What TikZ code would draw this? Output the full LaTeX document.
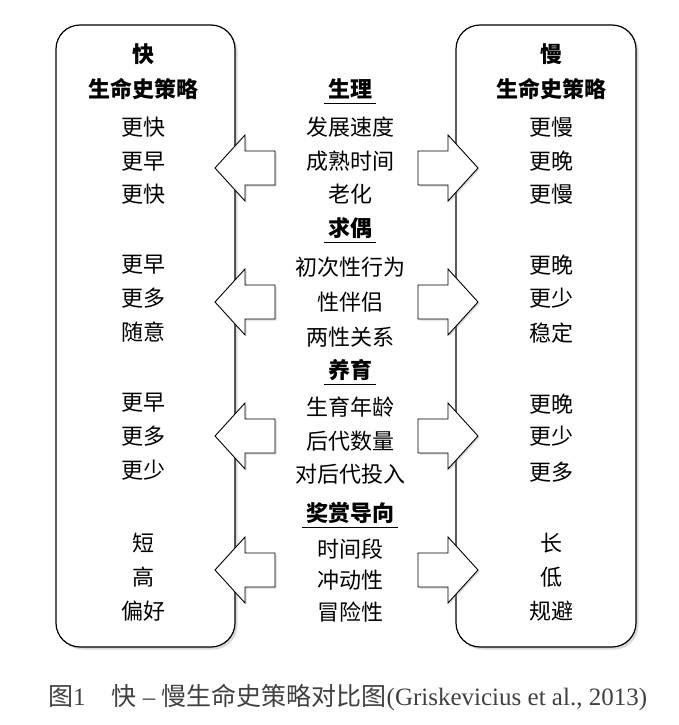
\documentclass[tikz,border=0pt]{standalone}
\usepackage{fontspec}
\setmainfont{Liberation Serif}
\newfontfamily\cjk{Noto Sans CJK SC}
\usetikzlibrary{shadows}

\begin{document}
\begin{tikzpicture}[x=1pt,y=-1pt,
    txt/.style={font=\cjk\fontsize{22pt}{26pt}\selectfont, text height=19pt, text depth=3pt, inner sep=3pt},
    head/.style={txt, font=\cjk\bfseries\fontsize{22pt}{26pt}\selectfont, inner xsep=4pt},
    panel/.style={draw, line width=1.2pt, rounded corners=24pt, fill=white,
        drop shadow={shadow xshift=2.5pt, shadow yshift=-2.5pt, opacity=0.3}},
    blockarrow/.style={draw, line width=0.9pt, fill=white,
        drop shadow={shadow xshift=1.5pt, shadow yshift=-1.5pt, opacity=0.3}}]
    \useasboundingbox (0,0) rectangle (679,725);
    % the two panels
    \draw[panel] (56,25) rectangle (235,647);
    \draw[panel] (456,25) rectangle (636,647);
    % block arrows, one pair per group
    \foreach \c in {168,302,436,570} {
        \draw[blockarrow] (275,{\c-17}) -- (245,{\c-17}) -- (245,{\c-33}) -- (215,\c)
            -- (245,{\c+33}) -- (245,{\c+17}) -- (275,{\c+17}) -- cycle;
        \draw[blockarrow] (418,{\c-17}) -- (448,{\c-17}) -- (448,{\c-33}) -- (478,\c)
            -- (448,{\c+33}) -- (448,{\c+17}) -- (418,{\c+17}) -- cycle;
    }
    % left panel
    \node[head] (fast) at (143,55) {快};
    \node[head] (fastlh) at (143,89) {生命史策略};
    \node[txt] (f1) at (143,127) {更快};
    \node[txt] (f2) at (143,161) {更早};
    \node[txt] (f3) at (143,194) {更快};
    \node[txt] (f4) at (143,264) {更早};
    \node[txt] (f5) at (143,298) {更多};
    \node[txt] (f6) at (143,332) {随意};
    \node[txt] (f7) at (143,402) {更早};
    \node[txt] (f8) at (143,436) {更多};
    \node[txt] (f9) at (143,470) {更少};
    \node[txt] (f10) at (143,543) {短};
    \node[txt] (f11) at (143,577) {高};
    \node[txt] (f12) at (143,611) {偏好};
    % right panel
    \node[head] (slow) at (551,55) {慢};
    \node[head] (slowlh) at (551,89) {生命史策略};
    \node[txt] (s1) at (551,127) {更慢};
    \node[txt] (s2) at (551,161) {更晚};
    \node[txt] (s3) at (551,194) {更慢};
    \node[txt] (s4) at (551,265) {更晚};
    \node[txt] (s5) at (551,298) {更少};
    \node[txt] (s6) at (551,333) {稳定};
    \node[txt] (s7) at (551,404) {更晚};
    \node[txt] (s8) at (551,436) {更少};
    \node[txt] (s9) at (551,472) {更多};
    \node[txt] (s10) at (551,543) {长};
    \node[txt] (s11) at (551,577) {低};
    \node[txt] (s12) at (551,611) {规避};
    % middle column
    \node[head] (phys) at (350,89) {生理};
    \draw[line width=1pt] (phys.south west) -- (phys.south east);
    \node[txt] (m1) at (350,127) {发展速度};
    \node[txt] (m2) at (350,161) {成熟时间};
    \node[txt] (m3) at (350,194) {老化};
    \node[head] (mate) at (350,228) {求偶};
    \draw[line width=1pt] (mate.south west) -- (mate.south east);
    \node[txt] (m4) at (350,267) {初次性行为};
    \node[txt] (m5) at (350,302) {性伴侣};
    \node[txt] (m6) at (350,337) {两性关系};
    \node[head] (rear) at (350,370) {养育};
    \draw[line width=1pt] (rear.south west) -- (rear.south east);
    \node[txt] (m7) at (350,407) {生育年龄};
    \node[txt] (m8) at (350,441) {后代数量};
    \node[txt] (m9) at (350,474) {对后代投入};
    \node[head] (reward) at (350,513) {奖赏导向};
    \draw[line width=1pt] (reward.south west) -- (reward.south east);
    \node[txt] (m10) at (350,549) {时间段};
    \node[txt] (m11) at (350,580) {冲动性};
    \node[txt] (m12) at (350,612) {冒险性};
    % caption
    \node[anchor=west, inner sep=0pt, text=black!75, text height=19pt, text depth=4pt,
        font=\fontsize{25pt}{30pt}\selectfont] (caption) at (48,698)
        {{\cjk 图}1\hspace{26pt}{\cjk 快} – {\cjk 慢生命史策略对比图}(Griskevicius et al., 2013)};
\end{tikzpicture}
\end{document}
